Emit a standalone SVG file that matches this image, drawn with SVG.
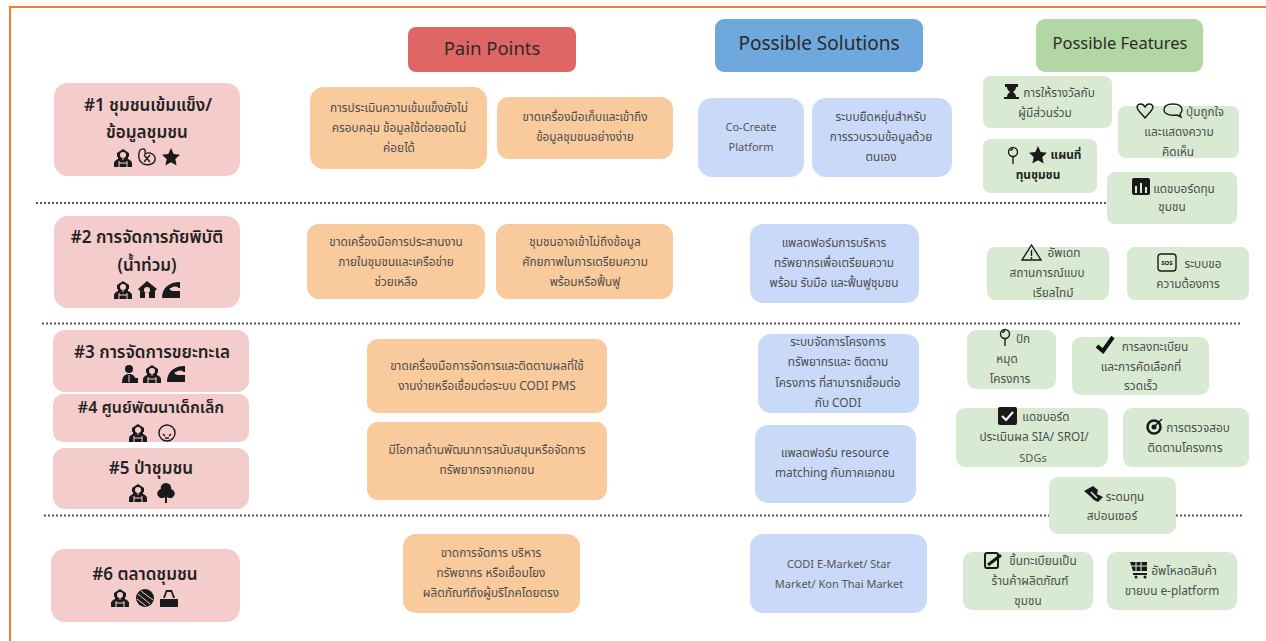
<svg xmlns="http://www.w3.org/2000/svg" width="1266" height="641" viewBox="0 0 1266 641">
<style>
text{font-family:"Noto Sans","Noto Sans Thai","Liberation Sans",sans-serif;text-anchor:middle}
.p{fill:#f4cccc}.o{fill:#f9cb9c}.b{fill:#c9daf8}.g{fill:#d9ead3}
.t{font-size:17px;font-weight:600;fill:#222}
.h{fill:#2b2b2b}
.s{font-size:11.800px;fill:#4d4d4d}
.e{font-size:11px;fill:#555}
.sb{font-size:11.800px;font-weight:700;fill:#222}
.dot{stroke:#555;stroke-width:2;stroke-dasharray:2 2;fill:none}
.i{fill:#1a1a1a}
.l{fill:none;stroke:#1a1a1a;stroke-width:1.400}
.k{fill:none;stroke:#f4cccc;stroke-width:1}
</style>
<defs>
<g id="comm"><path class="i" d="M9 0L15 4V8H14V10C16 11 18 12 18 14V18H0V14C0 12 2 11 4 10V8H3V4Z"/><circle cx="9" cy="6" r="3" fill="#f4cccc"/><path class="k" d="M5 12V18M13 12V18M5 14H13M8 10H10"/></g>
<g id="person"><circle class="i" cx="9" cy="4" r="4"/><path class="i" d="M2 18C2 11 5 9 9 9C13 9 16 11 16 18Z"/><path class="k" d="M9 10V17"/><path class="i" d="M14 13H18V18H14Z"/></g>
<g id="home"><path class="i" d="M9 0L19 8L17 10L17 17H2V10L0 8Z"/><circle cx="9" cy="9" r="3" fill="#f4cccc"/><rect x="7" y="12" width="4" height="5" fill="#f4cccc"/></g>
<g id="wave"><path class="i" d="M0 17C0 7 7 1 18 1V7H8C7 9 9 10 12 10H18V17Z"/><path d="M9 8C11 6 14 6 16 7" fill="none" stroke="#f4cccc" stroke-width="1.500"/></g>
<g id="star"><path class="i" d="M9 0L11.700 5.900 18 6.700 13.300 11 14.600 17.400 9 14.200 3.400 17.400 4.700 11 0 6.700 6.300 5.900Z"/></g>
<g id="pin"><circle class="l" cx="6" cy="5" r="4.500"/><path class="l" d="M6 9.500V17M4 4A2 2 0 0 1 6 2"/></g>
</defs>
<path d="M10 641V7H1266" fill="none" stroke="#ed7d31" stroke-width="2"/>
<g id="connectors">
<path class="dot" d="M36 203H1108"/>
<path class="dot" d="M42 323.500H1242"/>
<path class="dot" d="M44 515.500H1242"/>
</g>
<g id="h1"><rect x="408" y="27" width="168" height="45" rx="8" fill="#e06666"/><text class="h" font-size="18.500" x="492" y="55">Pain Points</text></g>
<g id="h2"><rect x="715" y="19" width="208" height="53" rx="9" fill="#6fa8dc"/><text class="h" font-size="19" x="819" y="50">Possible Solutions</text></g>
<g id="h3"><rect x="1036" y="19" width="167" height="53" rx="9" fill="#b3d6a5"/><text class="h" font-size="16.500" x="1120" y="49">Possible Features</text></g>

<g id="n1"><rect class="p" x="54" y="83" width="186" height="93" rx="14"/><text class="t" x="148" y="111">#1 ชุมชนเข้มแข็ง/</text><text class="t" x="147" y="138">ข้อมูลชุมชน</text>
<use href="#comm" x="114" y="149"/><path class="l" d="M140 150C145 147 146 151 145 154C150 151 156 155 155 160C154 165 146 166 142 163C138 160 138 154 140 150ZM144 155L150 162M150 155L144 162"/><use href="#star" x="162" y="148"/></g>
<g id="n2"><rect class="p" x="54" y="216" width="186" height="92" rx="14"/><text class="t" x="147" y="243">#2 การจัดการภัยพิบัติ</text><text class="t" x="147" y="271">(น้ำท่วม)</text>
<use href="#comm" x="114" y="281"/><use href="#home" x="138" y="281"/><use href="#wave" x="162" y="281"/></g>
<g id="n3"><rect class="p" x="53" y="330" width="196" height="62" rx="12"/><text class="t" font-size="17" x="152" y="358">#3 การจัดการขยะทะเล</text>
<use href="#person" x="120" y="365"/><use href="#comm" x="143" y="365"/><use href="#wave" x="167" y="365"/></g>
<g id="n4"><rect class="p" x="53" y="394" width="196" height="48" rx="10"/><text class="t" style="font-size:16px" x="151" y="413">#4 ศูนย์พัฒนาเด็กเล็ก</text>
<use href="#comm" x="129" y="424"/><circle class="l" cx="167" cy="433" r="8"/><path class="l" d="M163 434L165 436M171 434L169 436M165 438H169"/></g>
<g id="n5"><rect class="p" x="53" y="448" width="196" height="61" rx="12"/><text class="t" x="151" y="474">#5 ป่าชุมชน</text>
<use href="#comm" x="129" y="484"/><path class="i" d="M166 483C170 483 172 487 171 489C175 490 176 495 173 497C171 499 168 498 167 497V503H165V497C164 498 161 499 159 497C156 495 157 490 161 489C160 487 162 483 166 483Z"/></g>
<g id="n6"><rect class="p" x="51" y="549" width="189" height="73" rx="14"/><text class="t" x="145" y="580">#6 ตลาดชุมชน</text>
<use href="#comm" x="111" y="589"/><circle class="i" cx="145" cy="598" r="9"/><path class="k" d="M138 594L150 604M141 591L153 600M137 599L146 606"/><path class="i" d="M160 599H178V607H160ZM163 598L166 590H172L175 598H173L171 592H167L165 598Z"/></g>

<g id="o1"><rect class="o" x="310" y="87" width="177" height="82" rx="14"/><text class="s" x="399" y="112">การประเมินความเข้มแข็งยังไม่</text><text class="s" x="399" y="132">ครอบคลุม ข้อมูลใช้ต่อยอดไม่</text><text class="s" x="399" y="152">ค่อยได้</text></g>
<g id="o2"><rect class="o" x="497" y="97" width="176" height="62" rx="12"/><text class="s" x="585" y="121">ขาดเครื่องมือเก็บและเข้าถึง</text><text class="s" x="585" y="141">ข้อมูลชุมชนอย่างง่าย</text></g>
<g id="o3"><rect class="o" x="307" y="224" width="178" height="75" rx="12"/><text class="s" x="396" y="246">ขาดเครื่องมือการประสานงาน</text><text class="s" x="396" y="266">ภายในชุมชนและเครือข่าย</text><text class="s" x="396" y="286">ช่วยเหลือ</text></g>
<g id="o4"><rect class="o" x="496" y="224" width="177" height="75" rx="12"/><text class="s" x="585" y="246">ชุมชนอาจเข้าไม่ถึงข้อมูล</text><text class="s" x="585" y="266">ศักยภาพในการเตรียมความ</text><text class="s" x="585" y="286">พร้อมหรือฟื้นฟู</text></g>
<g id="o5"><rect class="o" x="367" y="339" width="240" height="74" rx="11"/><text class="s" x="487" y="370">ขาดเครื่องมือการจัดการและติดตามผลที่ใช้</text><text class="s" x="487" y="390">งานง่ายหรือเชื่อมต่อระบบ CODI PMS</text></g>
<g id="o6"><rect class="o" x="367" y="422" width="240" height="78" rx="11"/><text class="s" x="487" y="454">มีโอกาสด้านพัฒนาการสนับสนุนหรือจัดการ</text><text class="s" x="487" y="474">ทรัพยากรจากเอกชน</text></g>
<g id="o7"><rect class="o" x="403" y="534" width="177" height="79" rx="13"/><text class="s" x="491" y="557">ขาดการจัดการ บริหาร</text><text class="s" x="491" y="577">ทรัพยากร หรือเชื่อมโยง</text><text class="s" x="491" y="597">ผลิตภัณฑ์ถึงผู้บริโภคโดยตรง</text></g>

<g id="b1"><rect class="b" x="698" y="98" width="106" height="79" rx="14"/><text class="e" x="751" y="131">Co-Create</text><text class="e" x="751" y="151">Platform</text></g>
<g id="b2"><rect class="b" x="812" y="98" width="140" height="79" rx="14"/><text class="s" x="881" y="121">ระบบยืดหยุ่นสำหรับ</text><text class="s" x="881" y="141">การรวบรวมข้อมูลด้วย</text><text class="s" x="881" y="161">ตนเอง</text></g>
<g id="b3"><rect class="b" x="750" y="224" width="169" height="79" rx="13"/><text class="s" x="834" y="247">แพลตฟอร์มการบริหาร</text><text class="s" x="834" y="267">ทรัพยากรเพื่อเตรียมความ</text><text class="s" x="834" y="287">พร้อม รับมือ และฟื้นฟูชุมชน</text></g>
<g id="b4"><rect class="b" x="758" y="334" width="161" height="79" rx="13"/><text class="s" x="838" y="346">ระบบจัดการโครงการ</text><text class="s" x="838" y="366">ทรัพยากรและ ติดตาม</text><text class="s" x="838" y="387">โครงการ ที่สามารถเชื่อมต่อ</text><text class="s" x="838" y="407">กับ CODI</text></g>
<g id="b5"><rect class="b" x="755" y="425" width="161" height="78" rx="13"/><text class="s" x="835" y="457">แพลตฟอร์ม resource</text><text class="s" x="835" y="477">matching กับภาคเอกชน</text></g>
<g id="b6"><rect class="b" x="750" y="534" width="177" height="79" rx="13"/><text class="e" x="839" y="568">CODI E-Market/ Star</text><text class="e" x="839" y="588">Market/ Kon Thai Market</text></g>

<g id="f1"><rect class="g" x="983" y="76" width="129" height="52" rx="8"/><path class="i" d="M1005 84H1018V87H1016C1016 90 1014 91 1013 92C1014 93 1016 94 1016 97H1019V99H1004V97H1007C1007 94 1009 93 1010 92C1009 91 1007 90 1007 87H1005Z"/><text class="s" x="1059" y="97">การให้รางวัลกับ</text><text class="s" x="1045" y="117">ผู้มีส่วนร่วม</text></g>
<g id="f2"><rect class="g" x="983" y="139" width="114" height="54" rx="8"/><use href="#pin" x="1007" y="147"/><use href="#star" x="1029" y="146"/><text class="sb" x="1066" y="159">แผนที่</text><text class="sb" x="1038" y="179">ทุนชุมชน</text></g>
<g id="f3"><rect class="g" x="1118" y="106" width="121" height="52" rx="8"/><path class="l" d="M1145 118C1141 113 1137 110 1137 107C1138 103 1143 103 1145 107C1147 103 1152 103 1153 107C1153 110 1149 113 1145 118Z"/><path class="l" d="M1164 110C1164 106 1168 104 1173 104C1178 104 1182 106 1182 110C1182 112 1181 113 1180 114L1181 117L1177 115C1170 116 1164 114 1164 110Z"/><text class="s" x="1205" y="116">ปุ่มถูกใจ</text><text class="s" x="1179" y="136">และแสดงความ</text><text class="s" x="1178" y="156">คิดเห็น</text></g>
<g id="f4"><rect class="g" x="1107" y="172" width="130" height="52" rx="8"/><rect class="i" x="1132" y="178" width="18" height="17" rx="2"/><path d="M1136 193V186M1141 193V183M1146 193V187" stroke="#d9ead3" stroke-width="2"/><text class="s" x="1184" y="193">แดชบอร์ดทุน</text><text class="s" x="1172" y="211">ชุมชน</text></g>
<g id="f5"><rect class="g" x="987" y="247" width="122" height="53" rx="8"/><path class="l" d="M1031.500 245L1022 260H1041ZM1031.500 250V256M1031.500 257V259"/><text class="s" x="1064" y="257">อัพเดท</text><text class="s" x="1047" y="277">สถานการณ์แบบ</text><text class="s" x="1053" y="297">เรียลไทม์</text></g>
<g id="f6"><rect class="g" x="1127" y="247" width="122" height="53" rx="8"/><rect class="l" x="1158" y="254" width="18" height="17" rx="3"/><text x="1167" y="265" style="font-size:6px;font-weight:700;fill:#1a1a1a">SOS</text><text class="s" x="1203" y="268">ระบบขอ</text><text class="s" x="1188" y="288">ความต้องการ</text></g>
<g id="f7"><rect class="g" x="967" y="330" width="89" height="59" rx="9"/><use href="#pin" x="999" y="329"/><text class="s" x="1023" y="343">ปัก</text><text class="s" x="1007" y="363">หมุด</text><text class="s" x="1010" y="383">โครงการ</text></g>
<g id="f8"><rect class="g" x="1072" y="337" width="137" height="58" rx="9"/><path d="M1097 346L1103 351L1113 337" fill="none" stroke="#111" stroke-width="4"/><text class="s" x="1155" y="351">การลงทะเบียน</text><text class="s" x="1141" y="371">และการคัดเลือกที่</text><text class="s" x="1141" y="390">รวดเร็ว</text></g>
<g id="f9"><rect class="g" x="956" y="408" width="152" height="59" rx="9"/><rect class="i" x="998" y="407" width="19" height="18" rx="2"/><path d="M1002 416L1006 420L1013 412" fill="none" stroke="#fff" stroke-width="2"/><text class="s" x="1046" y="421">แดชบอร์ด</text><text class="s" x="1034" y="441">ประเมินผล SIA/ SROI/</text><text class="e" x="1033" y="462">SDGs</text></g>
<g id="f10"><rect class="g" x="1123" y="408" width="126" height="59" rx="9"/><circle class="l" cx="1154" cy="427" r="6.500" style="stroke-width:2.500"/><circle class="i" cx="1154" cy="427" r="2.500"/><path class="l" d="M1155 426L1162 419"/><text class="s" x="1198" y="432">การตรวจสอบ</text><text class="s" x="1185" y="452">ติดตามโครงการ</text></g>
<g id="f11"><rect class="g" x="1049" y="477" width="127" height="57" rx="9"/><path class="i" d="M1084 491L1093 486L1098 490L1097 494L1103 497L1098 502L1094 500L1091 497Z"/><path d="M1091 492L1097 498" stroke="#d9ead3" stroke-width="1.500"/><text class="s" x="1125" y="501">ระดมทุน</text><text class="s" x="1112" y="520">สปอนเซอร์</text></g>
<g id="f12"><rect class="g" x="963" y="552" width="130" height="58" rx="9"/><rect class="l" x="985" y="553" width="13" height="15" rx="2" style="stroke-width:2"/><path d="M988 565L1001 555" stroke="#1a1a1a" stroke-width="3"/><text class="s" x="1043" y="565">ขึ้นทะเบียนเป็น</text><text class="s" x="1030" y="585">ร้านค้าผลิตภัณฑ์</text><text class="s" x="1028" y="605">ชุมชน</text></g>
<g id="f13"><rect class="g" x="1107" y="552" width="130" height="58" rx="9"/><path class="i" d="M1130 562H1147V571H1133ZM1133 573H1147V575H1133Z"/><path d="M1136 562V571M1141 562V571M1131 566H1147" stroke="#d9ead3" stroke-width="1"/><circle class="i" cx="1136" cy="577" r="1.500"/><circle class="i" cx="1145" cy="577" r="1.500"/><text class="s" x="1184" y="575">อัพโหลดสินค้า</text><text class="s" x="1172" y="595">ขายบน e-platform</text></g>
</svg>
